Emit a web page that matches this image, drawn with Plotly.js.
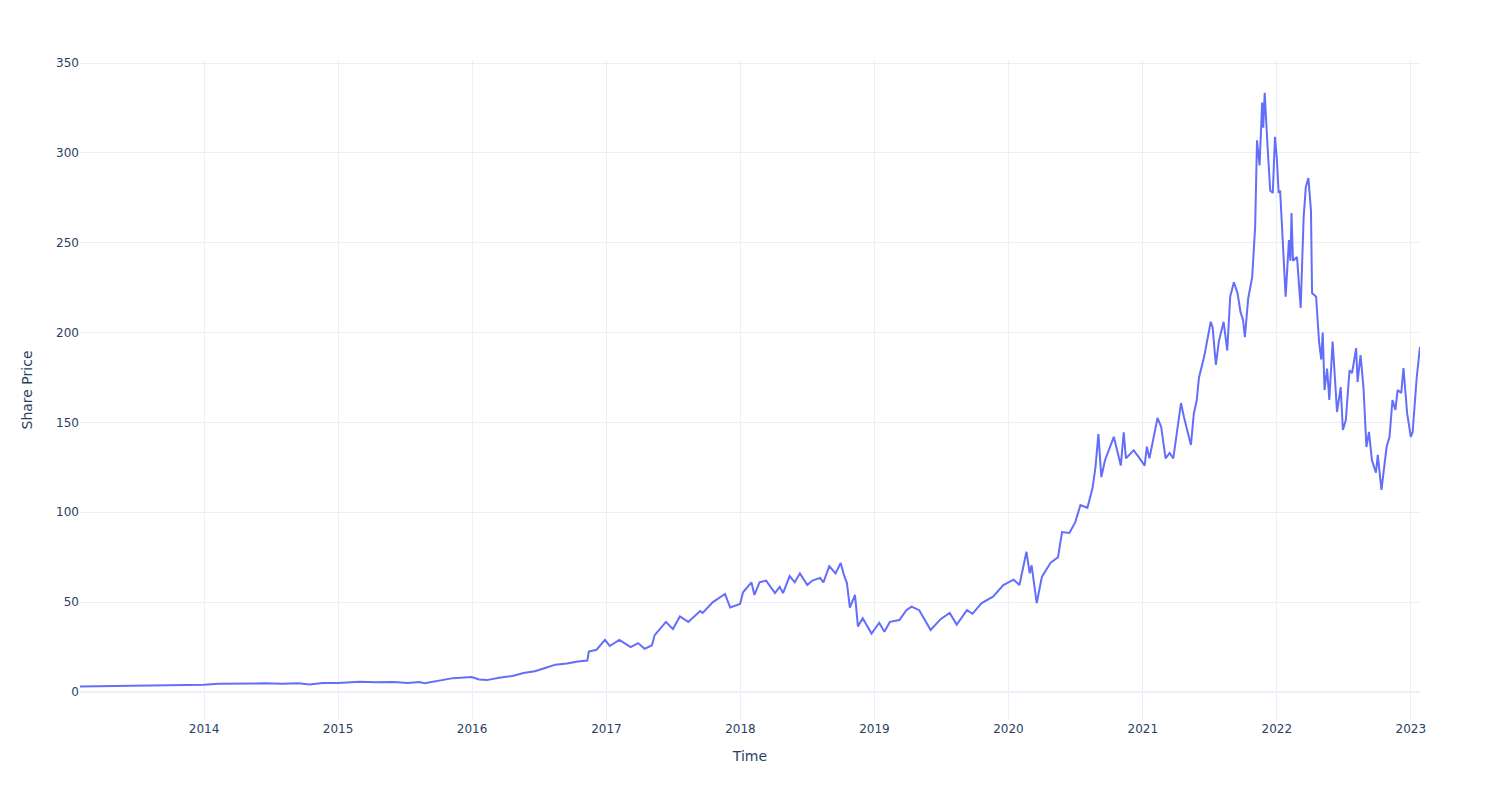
<!DOCTYPE html>
<html>
<head>
<meta charset="utf-8">
<script src="https://cdn.plot.ly/plotly-3.0.1.min.js"></script>
<style>html,body{margin:0;padding:0;background:#fff;}#chart{width:1500px;height:800px;}</style>
</head>
<body>
<div id="chart"></div>
<script>
const dates = [
"2013-01-28","2013-03-01","2013-04-15","2013-05-20","2013-07-01","2013-08-15","2013-10-01","2013-11-15","2013-12-31",
"2014-02-10","2014-03-20","2014-05-01","2014-06-15","2014-08-01","2014-09-15","2014-10-15","2014-11-20","2014-12-31",
"2015-02-01","2015-03-01","2015-04-15","2015-06-01","2015-07-10","2015-08-10","2015-08-25","2015-09-20","2015-10-15","2015-11-10","2015-12-10","2015-12-31",
"2016-01-20","2016-02-10","2016-03-15","2016-04-20","2016-05-20","2016-06-20","2016-07-20","2016-08-15","2016-09-15","2016-10-15","2016-11-10","2016-11-14","2016-12-05","2016-12-28",
"2017-01-10","2017-02-05","2017-02-20","2017-03-08","2017-03-28","2017-04-15","2017-05-05","2017-05-12","2017-05-20","2017-06-05","2017-06-12","2017-07-01","2017-07-20","2017-08-12","2017-09-13","2017-09-20","2017-10-18","2017-11-20","2017-12-04","2017-12-31",
"2018-01-08","2018-01-31","2018-02-08","2018-02-22","2018-03-12","2018-04-05","2018-04-18","2018-04-27","2018-05-15","2018-05-29","2018-06-12","2018-07-02","2018-07-16","2018-08-06","2018-08-15","2018-08-31","2018-09-17","2018-10-01","2018-10-10","2018-10-18","2018-10-26","2018-11-09","2018-11-17","2018-11-30","2018-12-24",
"2019-01-14","2019-01-28","2019-02-12","2019-03-10","2019-03-29","2019-04-12","2019-05-03","2019-06-03","2019-06-30","2019-07-25","2019-08-13","2019-09-10","2019-09-25","2019-10-20","2019-11-20","2019-12-18",
"2020-01-15","2020-01-31","2020-02-19","2020-02-28","2020-03-04","2020-03-18","2020-04-01","2020-04-08","2020-04-25","2020-05-15","2020-05-26","2020-06-15","2020-07-01","2020-07-15","2020-08-03","2020-08-17","2020-08-25","2020-09-02","2020-09-10","2020-09-20","2020-10-04","2020-10-14","2020-11-02","2020-11-10","2020-11-16","2020-12-07","2020-12-20",
"2021-01-06","2021-01-12","2021-01-19","2021-02-10","2021-02-20","2021-03-04","2021-03-15","2021-03-25","2021-04-15","2021-04-23","2021-05-12","2021-05-20","2021-05-28","2021-06-03","2021-06-17","2021-07-05","2021-07-10","2021-07-19","2021-07-27","2021-08-09","2021-08-19","2021-08-27","2021-09-06","2021-09-16","2021-09-24","2021-10-01","2021-10-06","2021-10-15","2021-10-26","2021-11-03","2021-11-08","2021-11-15","2021-11-22","2021-11-25","2021-11-29","2021-12-07","2021-12-10","2021-12-14","2021-12-21","2021-12-27",
"2022-01-01","2022-01-06","2022-01-10","2022-01-14","2022-01-25","2022-02-03","2022-02-07","2022-02-10","2022-02-14","2022-02-25","2022-03-07","2022-03-15","2022-03-21","2022-03-28","2022-04-04","2022-04-07","2022-04-18","2022-04-26","2022-05-02","2022-05-06","2022-05-11","2022-05-18","2022-05-24","2022-06-02","2022-06-10","2022-06-14","2022-06-24","2022-06-30","2022-07-08","2022-07-18","2022-07-25","2022-08-05","2022-08-09","2022-08-17","2022-08-25","2022-09-02","2022-09-09","2022-09-17","2022-09-28","2022-10-03","2022-10-13","2022-10-27","2022-11-04","2022-11-12","2022-11-20","2022-11-26","2022-12-06","2022-12-12","2022-12-22",
"2023-01-01","2023-01-06","2023-01-17","2023-01-26"
];
const prices = [
3.1,3.2,3.1,3.6,3.5,3.6,3.8,3.9,4.0,
4.6,4.7,4.6,4.8,4.6,4.8,4.2,5.0,5.0,
5.3,5.7,5.4,5.6,5.0,5.5,4.9,5.8,6.6,7.7,8.1,8.3,
7.0,6.6,7.9,8.9,10.5,11.5,13.5,15.2,15.8,17.0,17.5,22.5,23.5,29.0,
25.6,29.0,27.0,25.0,27.2,24.0,26.0,31.5,33.4,37.5,39.0,35.0,42.0,39.0,45.0,44.0,50.0,54.5,47.0,49.0,
55.5,61.0,54.0,61.0,62.0,55.0,58.5,55.0,64.5,61.0,66.0,59.5,62.0,63.5,61.0,70.0,66.0,71.8,65.0,60.6,47.0,54.0,36.5,41.0,32.5,
38.5,33.5,39.0,40.0,45.5,47.5,45.5,34.5,40.5,44.0,37.5,45.5,43.5,49.5,53.0,59.5,
62.5,59.5,78.0,66.0,70.5,49.5,64.0,66.5,72.0,75.0,89.0,88.5,94.5,104.0,102.5,113.5,125.0,143.5,119.6,129.0,136.0,142.0,126.0,144.5,130.0,134.5,131.0,
126.0,136.5,130.0,152.5,147.5,130.0,133.0,130.0,160.8,153.0,137.5,155.0,162.5,175.0,186.5,206.0,203.0,182.0,195.0,206.0,190.0,220.0,228.0,222.0,211.5,207.0,197.5,219.0,231.0,259.0,307.0,293.0,328.0,314.0,333.5,302.7,292.0,279.0,277.7,309.0,
297.0,277.7,279.0,262.7,220.0,251.5,240.0,266.6,240.0,242.0,213.7,264.0,281.0,286.0,268.0,222.0,220.0,195.0,185.0,200.0,168.0,180.0,162.5,195.0,166.4,155.8,169.7,145.8,151.4,179.0,177.5,191.4,172.5,187.5,169.7,136.3,144.7,129.0,122.0,132.0,112.4,136.3,142.0,162.5,157.0,168.0,166.4,180.3,155.0,
142.0,144.7,175.0,192.0
];

const gridCol = "#EBF0F8";
const trace = {
  type: "scatter",
  mode: "lines",
  x: dates,
  y: prices,
  line: {color: "#636efa", width: 2},
  hoverinfo: "x+y"
};
const layout = {
  width: 1500, height: 800,
  margin: {l: 80, r: 80, t: 60, b: 80},
  paper_bgcolor: "#ffffff",
  plot_bgcolor: "#ffffff",
  font: {family: "'DejaVu Sans', verdana, arial, sans-serif", size: 12, color: "#2a3f5f"},
  showlegend: false,
  xaxis: {
    type: "date",
    title: {text: "Time", standoff: 16},
    gridcolor: gridCol, linecolor: gridCol, zerolinecolor: gridCol, zerolinewidth: 2,
    ticks: "", showline: false, automargin: true
  },
  yaxis: {
    title: {text: "Share Price", standoff: 20},
    range: [-15.6, 351.7],
    gridcolor: gridCol, linecolor: gridCol, zerolinecolor: gridCol, zerolinewidth: 2,
    ticks: "", showline: false, automargin: true
  }
};
Plotly.newPlot("chart", [trace], layout, {displayModeBar: false, responsive: false});
</script>
</body>
</html>
